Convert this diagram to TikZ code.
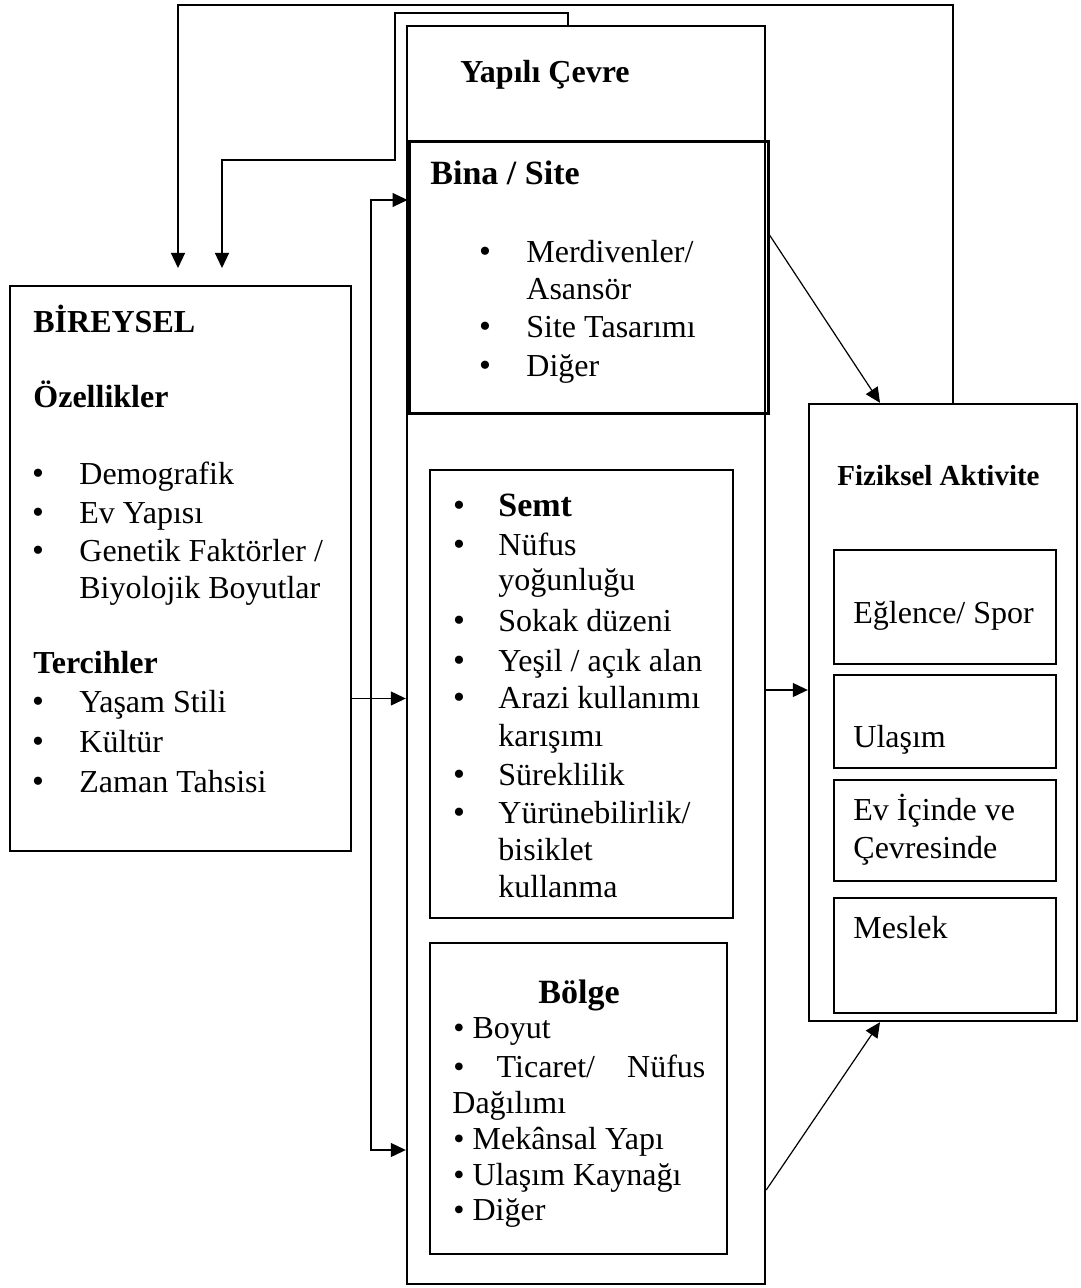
\documentclass[tikz,border=0pt]{standalone}
\usepackage{fontspec}
\setmainfont{Liberation Serif}
\usetikzlibrary{arrows.meta, positioning, calc}

\begin{document}
\begin{tikzpicture}[
    x=0.5pt, y=-0.5pt,
    >={Triangle[length=7.5pt, width=7pt]},
    kutu/.style={draw, line width=1.2pt, inner sep=0pt, anchor=center},
    ickutu/.style={draw, line width=0.75pt, inner sep=0pt, minimum width=111pt},
    ok/.style={->, line width=0.6pt},
    bas/.style={font=\bfseries\fontsize{16}{19}\selectfont, anchor=base west, inner sep=0pt},
    buyukbas/.style={font=\bfseries\fontsize{17}{20}\selectfont, anchor=base west, inner sep=0pt},
    yazi/.style={font=\fontsize{16}{19}\selectfont, anchor=base west, inner sep=0pt},
    nokta/.style={font=\fontsize{17}{17}\selectfont, anchor=base, inner sep=0pt},
  ]
  \useasboundingbox (0,0) rectangle (1080,1288);

  % kutular
  \node[kutu, minimum width=179pt, minimum height=629pt] (cevre) at (586,655) {};
  \node[kutu, line width=1.5pt, minimum width=179.5pt, minimum height=136pt] (bina) at (588.5,278) {};
  \node[kutu, line width=1pt, minimum width=151.5pt, minimum height=224pt] (semt) at (581.5,694) {};
  \node[kutu, line width=1pt, minimum width=148.5pt, minimum height=155.5pt] (bolge) at (578.5,1098.5) {};
  \node[kutu, minimum width=170.5pt, minimum height=282.5pt] (bireysel) at (180.5,568.5) {};
  \node[kutu, minimum width=134pt, minimum height=308.5pt] (fiziksel) at (943,712.5) {};
  \node[ickutu, minimum height=57pt] (eglence) at (945,607) {};
  \node[ickutu, minimum height=46.5pt] (ulasim) at (945,721.5) {};
  \node[ickutu, minimum height=50.5pt] (evici) at (945,830.5) {};
  \node[ickutu, minimum height=57.5pt] (meslek) at (945,955.5) {};

  % bireysel
  \node[bas] (bir-bas) at (33,333) {BİREYSEL};
  \node[bas] (bir-oz) at (33,408) {Özellikler};
  \node[bas] (bir-ter) at (33,673) {Tercihler};
  \foreach \y/\t [count=\i] in {484/Demografik, 523/{Ev Yapısı}, 561/{Genetik Faktörler /},
      712/{Yaşam Stili}, 752/Kültür, 792/{Zaman Tahsisi}} {
    \node[nokta] (bir-n\i) at (38,\y) {•};
    \node[yazi] (bir-t\i) at (79,\y) {\t};
  }
  \node[yazi] (bir-dev) at (79,598) {Biyolojik Boyutlar};

  % yapili cevre / bina
  \node[bas] (cevre-bas) at (460,83) {Yapılı Çevre};
  \node[buyukbas] (bina-bas) at (430,185) {Bina / Site};
  \foreach \y/\t [count=\i] in {263/{Merdivenler/}, 338/{Site Tasarımı}, 377/Diğer} {
    \node[nokta] (bina-n\i) at (485,\y) {•};
    \node[yazi] (bina-t\i) at (526,\y) {\t};
  }
  \node[yazi] (bina-dev) at (526,300) {Asansör};

  % semt
  \node[nokta] (semt-n0) at (459,516) {•};
  \node[buyukbas] (semt-bas) at (498,516) {Semt};
  \foreach \y/\t [count=\i] in {555/Nüfus, 631/{Sokak düzeni}, 671/{Yeşil / açık alan},
      708/{Arazi kullanımı}, 785/Süreklilik, 823/{Yürünebilirlik/}} {
    \node[nokta] (semt-n\i) at (459,\y) {•};
    \node[yazi] (semt-t\i) at (498,\y) {\t};
  }
  \foreach \y/\t [count=\i] in {590/yoğunluğu, 746/karışımı, 860/bisiklet, 897/kullanma}
    \node[yazi] (semt-d\i) at (498,\y) {\t};

  % bolge
  \node[buyukbas] (bolge-bas) at (538,1003) {Bölge};
  \node[yazi] (bolge-t1) at (453,1038) {• Boyut};
  \node[yazi] (bolge-t2) at (453,1077) {\makebox[126pt][s]{•\hfill Ticaret/\hfill Nüfus}};
  \node[yazi] (bolge-t3) at (452,1113) {Dağılımı};
  \node[yazi] (bolge-t4) at (453,1149) {• Mekânsal Yapı};
  \node[yazi] (bolge-t5) at (453,1185) {• Ulaşım Kaynağı};
  \node[yazi] (bolge-t6) at (453,1220) {• Diğer};

  % fiziksel aktivite
  \node[bas, font=\bfseries\fontsize{14.5}{17}\selectfont] (fiz-bas) at (837,485) {Fiziksel Aktivite};
  \node[yazi] (fiz-t1) at (853,623) {Eğlence/ Spor};
  \node[yazi] (fiz-t2) at (853,747) {Ulaşım};
  \node[yazi] (fiz-t3) at (853,820) {Ev İçinde ve};
  \node[yazi] (fiz-t4) at (853,858) {Çevresinde};
  \node[yazi] (fiz-t5) at (853,938) {Meslek};

  % oklar
  \coordinate (g1) at (178,268);
  \coordinate (g2) at (222,268);
  \draw[ok] ([xshift=5pt]fiziksel.north) |- (178,5) -- (g1);
  \draw[ok] ([xshift=-9pt]cevre.north) |- (395,13) -- (395,160) -| (g2);
  \draw[ok, <->] ([yshift=39pt]bina.west) -| (371,1150) -- ([yshift=-247.5pt]cevre.west);
  \coordinate (b1) at ([yshift=-65pt]bireysel.east);
  \draw[ok] (b1) -- (b1 -| cevre.west);
  \coordinate (c1) at ([yshift=-17.5pt]cevre.east);
  \draw[ok] (c1) -- (c1 -| fiziksel.west);
  \draw[ok] ([yshift=21.5pt]bina.east) -- ([xshift=-31.5pt]fiziksel.north);
  \draw[ok] ([yshift=-267.5pt]cevre.east) -- ([xshift=-31.5pt]fiziksel.south);
\end{tikzpicture}
\end{document}
